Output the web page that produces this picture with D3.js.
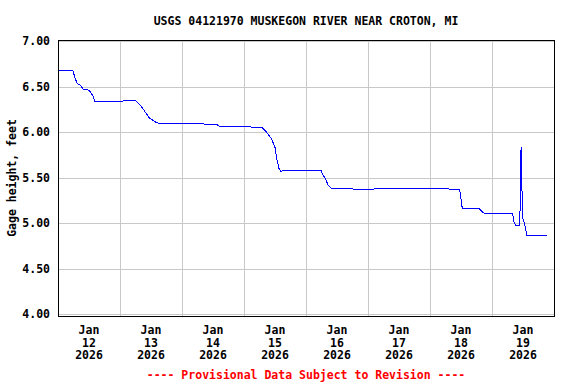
<!DOCTYPE html>
<html lang="en">

<head>
  <meta charset="UTF-8">
  <title>USGS 04121970 gage height</title>
  <script src="https://cdn.jsdelivr.net/npm/d3@7"></script>
  <style>
    body { margin: 0; background: #fff; }
    text { font-family: "DejaVu Sans Mono", monospace; font-weight: bold; font-size: 11.5px; }
  </style>
</head>

<body>
  <svg id="chart" width="576" height="384"></svg>

  <script>
    // readings (local time) and gage height in feet
    const times = [
      "2026-01-12 00:00", "2026-01-12 01:30", "2026-01-12 03:00", "2026-01-12 04:30", "2026-01-12 05:45",
      "2026-01-12 06:30", "2026-01-12 07:30", "2026-01-12 08:30", "2026-01-12 09:45", "2026-01-12 12:00",
      "2026-01-12 12:45", "2026-01-12 13:30", "2026-01-12 14:15", "2026-01-12 16:15", "2026-01-12 20:00",
      "2026-01-13 00:00", "2026-01-13 01:30", "2026-01-13 04:00", "2026-01-13 06:15", "2026-01-13 07:45",
      "2026-01-13 09:00", "2026-01-13 10:30", "2026-01-13 11:30", "2026-01-13 13:15", "2026-01-13 14:15",
      "2026-01-13 17:30", "2026-01-13 23:15", "2026-01-14 07:00", "2026-01-14 13:30", "2026-01-14 14:45",
      "2026-01-14 22:30", "2026-01-15 07:00", "2026-01-15 08:00", "2026-01-15 09:15", "2026-01-15 10:45",
      "2026-01-15 12:00", "2026-01-15 12:45", "2026-01-15 13:30", "2026-01-15 14:15", "2026-01-15 18:00",
      "2026-01-16 01:30", "2026-01-16 05:45", "2026-01-16 06:30", "2026-01-16 07:30", "2026-01-16 08:30",
      "2026-01-16 09:45", "2026-01-16 13:15", "2026-01-16 21:00", "2026-01-17 12:30", "2026-01-18 00:00",
      "2026-01-18 11:30", "2026-01-18 12:30", "2026-01-18 15:30", "2026-01-18 19:00", "2026-01-18 20:00",
      "2026-01-18 21:15", "2026-01-19 03:00", "2026-01-19 08:00", "2026-01-19 08:30", "2026-01-19 09:15",
      "2026-01-19 10:45", "2026-01-19 11:00", "2026-01-19 11:15", "2026-01-19 11:30", "2026-01-19 11:45",
      "2026-01-19 12:30", "2026-01-19 13:00", "2026-01-19 13:30", "2026-01-19 21:15"
    ];
    const heights = [
      6.67, 6.68, 6.67, 6.68, 6.68,
      6.60, 6.53, 6.52, 6.47, 6.46,
      6.43, 6.40, 6.34, 6.33, 6.34,
      6.33, 6.345, 6.35, 6.34, 6.30,
      6.25, 6.19, 6.15, 6.12, 6.10,
      6.09, 6.09, 6.09, 6.08, 6.06,
      6.06, 6.05, 6.02, 5.98, 5.92,
      5.83, 5.70, 5.60, 5.57, 5.58,
      5.58, 5.58, 5.53, 5.49, 5.42,
      5.38, 5.38, 5.37, 5.38, 5.38,
      5.37, 5.16, 5.16, 5.16, 5.13,
      5.10, 5.10, 5.10, 5.01, 4.97,
      4.97, 5.40, 5.83, 5.60, 5.07,
      5.00, 4.94, 4.86, 4.86
    ];
    const dayLabels = ["12", "13", "14", "15", "16", "17", "18", "19"];
    const yTicks = [4.0, 4.5, 5.0, 5.5, 6.0, 6.5, 7.0];

    const parseTime = d3.timeParse("%Y-%m-%d %H:%M");
    const data = times.map((t, i) => ({ date: parseTime(t), value: heights[i] }));

    const svg = d3.select("#chart");
    const plotLeft = 58, plotRight = 554, plotTop = 40, plotBottom = 316;

    const start = parseTime("2026-01-12 00:00");
    const end = parseTime("2026-01-20 00:00");
    const x = d3.scaleTime().domain([start, end]).range([plotLeft, plotRight]);
    const y = d3.scaleLinear().domain([4, 7]).range([314, 41]);

    // grid
    const midnights = d3.timeDay.range(d3.timeDay.offset(start, 1), end);
    svg.append("g").selectAll("line").data(midnights).join("line")
      .attr("x1", d => Math.round(x(d)) + 0.5).attr("x2", d => Math.round(x(d)) + 0.5)
      .attr("y1", plotTop).attr("y2", plotBottom)
      .attr("stroke", "#c8c8c8");
    svg.append("g").selectAll("line").data(yTicks).join("line")
      .attr("x1", plotLeft).attr("x2", plotRight)
      .attr("y1", d => Math.round(y(d)) + 0.5).attr("y2", d => Math.round(y(d)) + 0.5)
      .attr("stroke", "#c8c8c8");

    // y axis labels
    const yAxis = d3.axisLeft(y).tickValues(yTicks).tickFormat(d3.format(".2f")).tickSize(0).tickPadding(8);
    const yG = svg.append("g").attr("transform", `translate(${plotLeft},0)`).call(yAxis);
    yG.select(".domain").remove();
    yG.selectAll("text").attr("fill", "#000").style("font-size", "11.5px")
      .style("font-family", "DejaVu Sans Mono, monospace").style("font-weight", "bold");

    // x labels at noon
    const noons = dayLabels.map(d => parseTime(`2026-01-${d} 12:00`));
    const xl = svg.append("g").selectAll("text").data(noons).join("text")
      .attr("x", d => x(d))
      .attr("text-anchor", "middle");
    xl.append("tspan").attr("x", d => x(d)).attr("y", 334).text("Jan");
    xl.append("tspan").attr("x", d => x(d)).attr("y", 346.5).text((d, i) => dayLabels[i]);
    xl.append("tspan").attr("x", d => x(d)).attr("y", 359).text("2026");

    // data line
    const line = d3.line().x(d => x(d.date)).y(d => y(d.value));
    svg.append("path").datum(data)
      .attr("d", line)
      .attr("fill", "none")
      .attr("stroke", "#0000ff")
      .attr("stroke-width", 1)
      .style("shape-rendering", "crispEdges");

    // frame
    svg.append("rect")
      .attr("x", plotLeft + 0.5).attr("y", plotTop + 0.5)
      .attr("width", plotRight - plotLeft).attr("height", plotBottom - plotTop)
      .attr("fill", "none").attr("stroke", "#000");

    svg.append("text").attr("x", 306).attr("y", 25).attr("text-anchor", "middle")
      .text("USGS 04121970 MUSKEGON RIVER NEAR CROTON, MI");

    svg.append("text")
      .attr("transform", "translate(16,178) rotate(-90)")
      .attr("text-anchor", "middle")
      .text("Gage height, feet");

    svg.append("text").attr("x", 306).attr("y", 379).attr("text-anchor", "middle")
      .attr("fill", "#ff0000")
      .text("---- Provisional Data Subject to Revision ----");
  </script>
</body>

</html>
